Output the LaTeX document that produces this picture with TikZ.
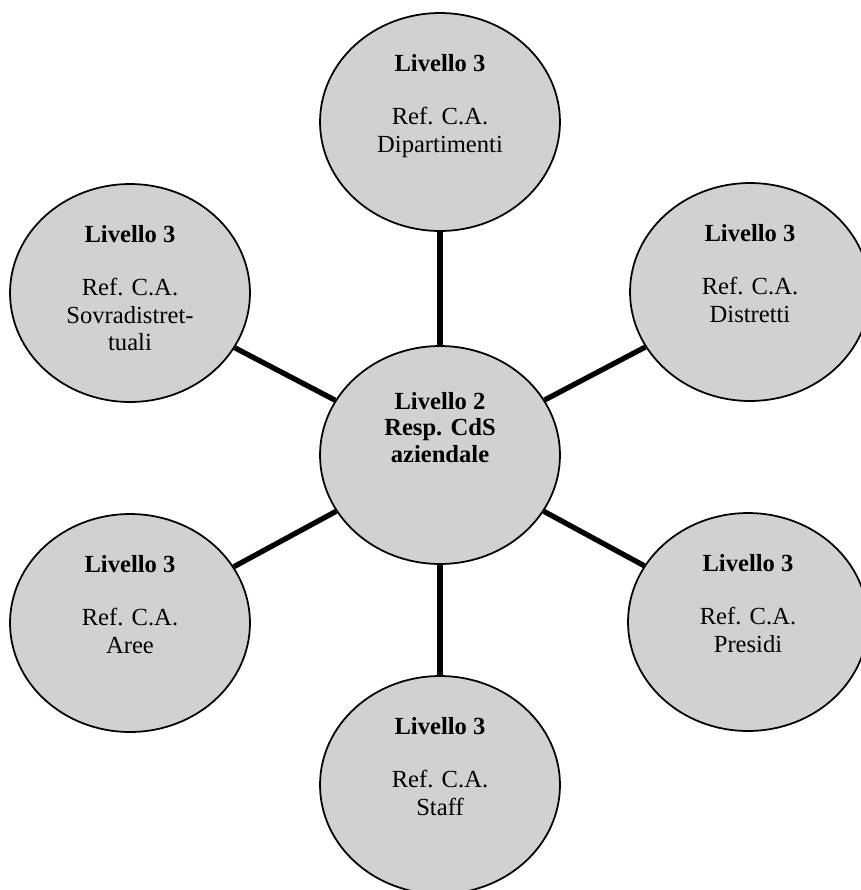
\documentclass[tikz,border=0pt]{standalone}
\usepackage{fontspec}
\setmainfont{Liberation Serif}
\usetikzlibrary{shapes,positioning,calc}

\begin{document}
\begin{tikzpicture}[
    x=0.02cm, y=-0.02cm,
    unit/.style={ellipse, draw, line width=1pt, fill=black!18, minimum width=4.8cm, minimum height=4.36cm, inner sep=0pt},
    txt/.style={anchor=north, align=center, inner sep=0pt, font=\fontsize{14}{15.8}\selectfont},
    head/.style={align=center, inner sep=0pt, font=\fontsize{14}{15.3}\selectfont\bfseries},
    link/.style={line width=3pt}
]
\useasboundingbox (0,0) rectangle (861,890);

% Level 2 (centre)
\node[unit] (ctr) at (440,455) {};

% Level 3 units
\node[unit] (dip) at (440,122) {};
\node[unit] (sovr) at (130,293) {};
\node[unit] (distr) at (750,292) {};
\node[unit] (aree) at (130,623) {};
\node[unit] (pres) at (748,622) {};
\node[unit] (staff) at (440,785) {};

% Links
\draw[link] (ctr) -- (dip);
\draw[link] (ctr) -- (sovr);
\draw[link] (ctr) -- (distr);
\draw[link] (ctr) -- (aree);
\draw[link] (ctr) -- (pres);
\draw[link] (ctr) -- (staff);

% Texts
\node[head] (ctr_t) at ([yshift=0.55cm]ctr.center) {Livello 2\\Resp. CdS\\aziendale};
\node[txt] (dip_t) at ([yshift=1.35cm]dip.center) {\textbf{Livello 3}\\[14pt]Ref. C.A.\\Dipartimenti};
\node[txt] (sovr_t) at ([yshift=1.35cm]sovr.center) {\textbf{Livello 3}\\[14pt]Ref. C.A.\\Sovradistret-\\tuali};
\node[txt] (distr_t) at ([yshift=1.35cm]distr.center) {\textbf{Livello 3}\\[14pt]Ref. C.A.\\Distretti};
\node[txt] (aree_t) at ([yshift=1.35cm]aree.center) {\textbf{Livello 3}\\[14pt]Ref. C.A.\\Aree};
\node[txt] (pres_t) at ([yshift=1.35cm]pres.center) {\textbf{Livello 3}\\[14pt]Ref. C.A.\\Presidi};
\node[txt] (staff_t) at ([yshift=1.35cm]staff.center) {\textbf{Livello 3}\\[14pt]Ref. C.A.\\Staff};

\end{tikzpicture}
\end{document}
